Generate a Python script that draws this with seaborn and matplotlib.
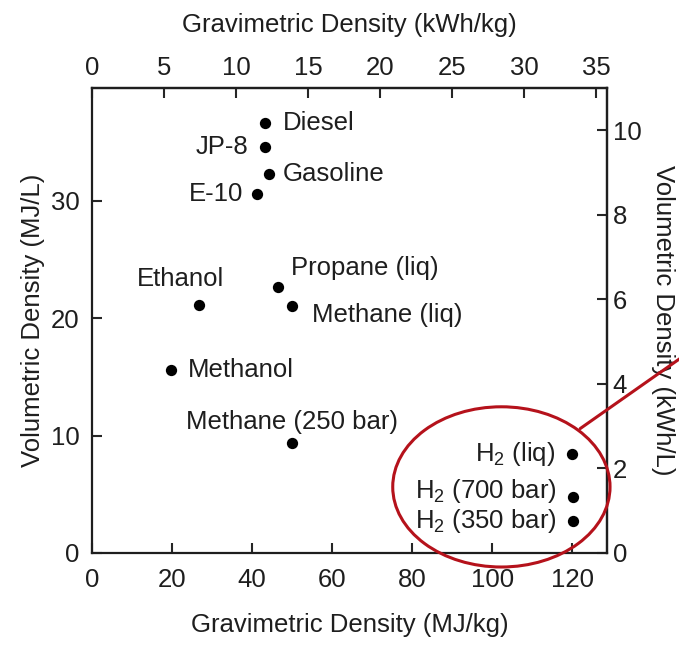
import pandas as pd
import seaborn as sns
import matplotlib.pyplot as plt
from matplotlib.patches import Ellipse
from matplotlib.lines import Line2D

# fuels (MJ/kg, MJ/L)
fuels = ["Diesel", "JP-8", "Gasoline", "E-10", "Ethanol", "Propane (liq)",
         "Methane (liq)", "Methanol", "Methane (250 bar)",
         r"H$_\mathregular{2}$ (liq)", r"H$_\mathregular{2}$ (700 bar)",
         r"H$_\mathregular{2}$ (350 bar)"]
grav_mj_kg = [43.2, 43.2, 44.3, 41.2, 26.8, 46.4, 50.0, 19.8, 50.0, 120.0, 120.2, 120.2]
vol_mj_l = [36.6, 34.6, 32.3, 30.6, 21.1, 22.7, 21.0, 15.6, 9.4, 8.45, 4.8, 2.75]

# label placement (pixel offsets from the dot, horizontal alignment)
label_dx = [18, -16, 13, -14, -19, 13, 20, 17, 0, -17, -16, -16]
label_dy = [0, 0, 0, 0, 26, 19, -9, 0, 21, 0, 6, 0]
label_ha = ["left", "right", "left", "right", "center", "left", "left", "left",
            "center", "right", "right", "right"]

MJ_PER_KWH = 3.6
red = "#b5121b"
ink = "#1e1e1e"

sns.set_style("ticks")
plt.rcParams["font.family"] = ["Liberation Sans", "DejaVu Sans"]
plt.rcParams["mathtext.fontset"] = "custom"
plt.rcParams["mathtext.rm"] = "Liberation Sans"
plt.rcParams["mathtext.it"] = "Liberation Sans"

df = pd.DataFrame({"fuel": fuels, "grav": grav_mj_kg, "vol": vol_mj_l})

fig = plt.figure(figsize=(6.79, 6.46), dpi=100)
ax = fig.add_axes([0.1355, 0.1440, 0.7585, 0.7195])

sns.scatterplot(data=df, x="grav", y="vol", ax=ax, color="black", s=66,
                edgecolor="black", linewidth=0, zorder=3)

for name, x, y, dx, dy, ha in zip(fuels, grav_mj_kg, vol_mj_l, label_dx, label_dy, label_ha):
    ax.annotate(name, (x, y), xytext=(dx, dy), textcoords="offset pixels",
                ha=ha, va="center", fontsize=18.5, color=ink)

ax.set_xlim(0, 128.7)
ax.set_ylim(0, 39.6)
ax.set_xticks([0, 20, 40, 60, 80, 100, 120])
ax.set_yticks([0, 10, 20, 30])
ax.set_xlabel("Gravimetric Density (MJ/kg)", fontsize=18.5, labelpad=15, color=ink)
ax.set_ylabel("Volumetric Density (MJ/L)", fontsize=18.5, labelpad=4, color=ink)

top = ax.secondary_xaxis("top", functions=(lambda v: v / MJ_PER_KWH, lambda v: v * MJ_PER_KWH))
top.set_xticks([0, 5, 10, 15, 20, 25, 30, 35])
top.set_xlabel("Gravimetric Density (kWh/kg)", fontsize=18.5, labelpad=17, color=ink)
right = ax.secondary_yaxis("right", functions=(lambda v: v / MJ_PER_KWH, lambda v: v * MJ_PER_KWH))
right.set_yticks([0, 2, 4, 6, 8, 10])
right.set_ylabel("Volumetric Density (kWh/L)", fontsize=18.5, rotation=270, labelpad=24,
                 color=ink)

for a in (ax, top, right):
    a.tick_params(direction="in", length=7, width=1.5, labelsize=18.5,
                  labelcolor=ink)
    for sp in a.spines.values():
        sp.set_linewidth(1.6)
        sp.set_color(ink)
ax.tick_params(axis="x", pad=11)
ax.tick_params(axis="y", pad=9)
top.tick_params(axis="x", pad=6)
right.tick_params(axis="y", pad=4)

# red callout around the hydrogen points
ax.add_patch(Ellipse((102.3, 5.63), 54.3, 13.65, fill=False, edgecolor=red,
                     linewidth=2.2, clip_on=False, zorder=4))
ax.add_line(Line2D([122.0, 150.0], [10.6, 17.3], color=red, linewidth=2.2,
                   clip_on=False, zorder=4))

fig.savefig("out.png", dpi=100, facecolor="white")
